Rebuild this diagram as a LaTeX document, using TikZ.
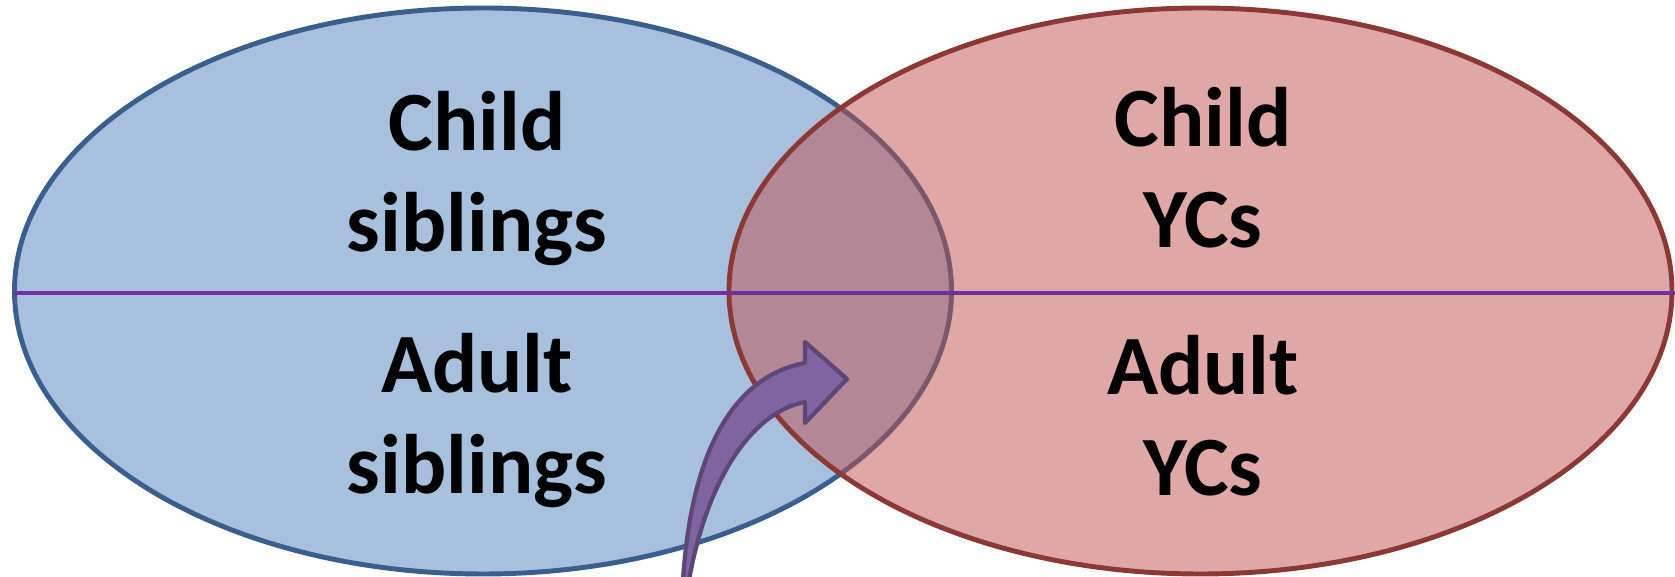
\documentclass[tikz,border=0pt]{standalone}
\usepackage{fontspec}
\setmainfont{Carlito}
\usepackage{xcolor}
\usepackage{tikz}
\usetikzlibrary{positioning}

\definecolor{sibfill}{HTML}{4F81BD}
\definecolor{sibline}{HTML}{3A5F8C}
\definecolor{ycfill}{HTML}{C0504D}
\definecolor{ycline}{HTML}{8C3836}
\definecolor{midline}{HTML}{7030A0}
\definecolor{arrfill}{HTML}{8064A2}
\definecolor{arrline}{HTML}{5C4776}

\tikzset{
  label/.style={align=center, anchor=base, inner sep=0pt,
    font=\fontsize{24}{29}\selectfont\bfseries}
}

\begin{document}
\begin{tikzpicture}[x=0.01cm, y=-0.01cm]

\useasboundingbox (0,0) rectangle (1675,577);
\clip (0,0) rectangle (1675,577);

% Elipse dos irmaos
\draw[sibline, line width=1.4pt, fill=sibfill, fill opacity=0.5] (483,291) ellipse (468.5 and 283);

% Elipse dos YCs
\draw[ycline, line width=1.4pt, fill=ycfill, fill opacity=0.5] (1200.5,291) ellipse (471.5 and 283);

% Linha divisoria
\draw[midline, line width=1.4pt] (14,293) -- (1675,293);

% Textos
\node[label] (childsib) at (477,252) {Child\\siblings};
\node[label] (adultsib) at (477,494) {Adult\\siblings};
\node[label] (childyc) at (1203,248) {Child\\YCs};
\node[label] (adultyc) at (1203,496) {Adult\\YCs};

% Seta curva
\draw[arrline, line width=1.2pt, fill=arrfill, line join=round]
  (683,580) .. controls (692,440) and (740,375) .. (805,363)
  -- (805,342) -- (847,379) -- (805,423) -- (805,402)
  .. controls (760,410) and (710,465) .. (689,580) -- cycle;

\end{tikzpicture}
\end{document}
